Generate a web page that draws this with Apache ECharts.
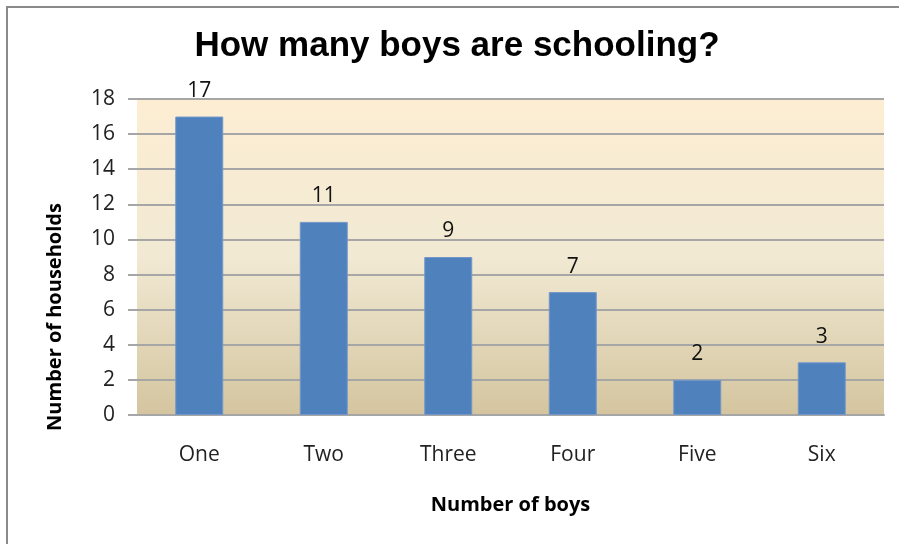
<!DOCTYPE html>
<html>
<head>
<meta charset="utf-8">
<title>How many boys are schooling?</title>
<script src="https://cdn.jsdelivr.net/npm/echarts@6/dist/echarts.min.js"></script>
<style>
  html, body { margin: 0; padding: 0; background: #ffffff; }
  #chart { width: 899px; height: 544px; }
</style>
</head>
<body>
<div id="chart"></div>
<script>
// Number of boys attending school per household, and how many households
const categories = ['One', 'Two', 'Three', 'Four', 'Five', 'Six'];
const households = [17, 11, 9, 7, 2, 3];
const yTicks = { min: 0, max: 18, interval: 2 };

const titleText = 'How many boys are schooling?';
const xAxisName = 'Number of boys';
const yAxisName = 'Number of households';

const chart = echarts.init(document.getElementById('chart'), null, { renderer: 'canvas' });

const labelFont = '"Open Sans", "Noto Sans", sans-serif';

chart.setOption({
  animation: false,
  backgroundColor: '#ffffff',
  graphic: [
    {
      // outer chart frame
      type: 'rect',
      shape: { x: 7, y: 7, width: 1200, height: 1200 },
      style: { fill: 'none', stroke: '#8a8a8a', lineWidth: 2 },
      silent: true,
      z: 100
    },
    {
      // chart title
      type: 'text',
      x: 457,
      y: 46,
      style: {
        text: titleText,
        fontFamily: '"Liberation Sans", Arial, sans-serif',
        fontWeight: 'bold',
        fontSize: 35,
        fill: '#000000',
        align: 'center',
        verticalAlign: 'middle'
      }
    },
    {
      // vertical axis title
      type: 'text',
      x: 55,
      y: 317,
      rotation: Math.PI / 2,
      style: {
        text: yAxisName,
        fontFamily: labelFont,
        fontWeight: 'bold',
        fontSize: 20,
        fill: '#000000',
        align: 'center',
        verticalAlign: 'middle'
      }
    }
  ],
  grid: {
    left: 137,
    right: 15,
    top: 99,
    bottom: 129,
    show: true,
    borderWidth: 0,
    backgroundColor: new echarts.graphic.LinearGradient(0, 0, 0, 1, [
      { offset: 0, color: '#fdeed3' },
      { offset: 0.5, color: '#f1e9d3' },
      { offset: 1, color: '#d4c59f' }
    ])
  },
  xAxis: {
    type: 'category',
    data: categories,
    name: xAxisName,
    nameLocation: 'middle',
    nameGap: 80,
    nameTextStyle: {
      fontFamily: labelFont,
      fontWeight: 'bold',
      fontSize: 20,
      color: '#000000'
    },
    axisLine: { show: true, lineStyle: { color: '#a6a6a6', width: 2 } },
    axisTick: { show: false },
    axisLabel: {
      margin: 30,
      fontFamily: labelFont,
      fontSize: 21,
      color: '#222222'
    }
  },
  yAxis: {
    type: 'value',
    min: yTicks.min,
    max: yTicks.max,
    interval: yTicks.interval,
    axisLine: { show: false },
    axisTick: { show: true, length: 9, lineStyle: { color: '#a6a6a6', width: 2 } },
    splitLine: { show: true, lineStyle: { color: '#a6a6a6', width: 2 } },
    axisLabel: {
      margin: 22,
      fontFamily: labelFont,
      fontSize: 21,
      color: '#222222'
    }
  },
  series: [
    {
      type: 'bar',
      data: households,
      barWidth: 48,
      itemStyle: {
        color: '#4f81bd',
        borderColor: '#7397c9',
        borderWidth: 1
      },
      label: {
        show: true,
        position: 'top',
        distance: 15,
        fontFamily: labelFont,
        fontSize: 21,
        color: '#111111'
      }
    }
  ]
});
</script>
</body>
</html>
